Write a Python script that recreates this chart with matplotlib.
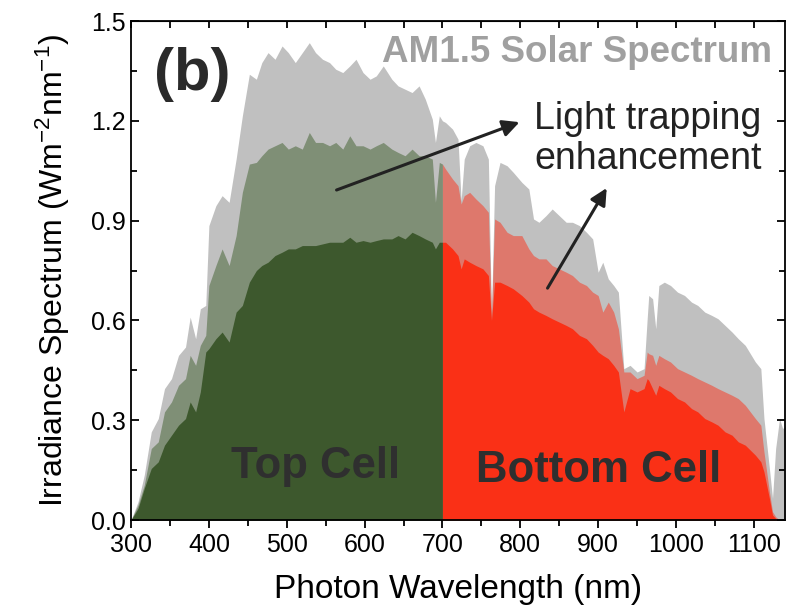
import numpy as np
import matplotlib
matplotlib.use("Agg")
import matplotlib.pyplot as plt
from matplotlib.ticker import MultipleLocator

plt.rcParams["font.family"] = ["Liberation Sans", "DejaVu Sans"]
plt.rcParams["mathtext.fontset"] = "custom"
plt.rcParams["mathtext.rm"] = "Liberation Sans"
plt.rcParams["mathtext.it"] = "Liberation Sans:italic"

# values (nm, W m^-2 nm^-1)
wavelength = [300, 309, 317, 326, 335, 343, 352, 361, 370, 376, 383, 389, 396, 400, 409, 417, 426, 435, 443, 452,
	461, 468, 476, 485, 494, 502, 511, 520, 529, 537, 546, 555, 563, 572, 581, 589, 598, 607, 615, 624,
	635, 643, 652, 661, 670, 678, 687, 691, 696, 700, 704, 713, 720, 724, 728, 735, 743, 752, 759, 763,
	767, 774, 783, 791, 802, 811, 817, 824, 833, 841, 850, 859, 867, 876, 885, 893, 900, 906, 913, 920,
	926, 933, 941, 950, 959, 963, 965, 970, 974, 978, 985, 993, 1002, 1011, 1020, 1028, 1037, 1046, 1054, 1063,
	1072, 1080, 1089, 1102, 1109, 1113, 1120, 1124, 1128, 1133, 1137, 1141]

am15 = [0.0, 0.055, 0.135, 0.265, 0.305, 0.395, 0.425, 0.495, 0.52, 0.61, 0.545, 0.635, 0.645, 0.885, 0.945, 0.975, 0.955, 1.085, 1.215, 1.34,
	1.325, 1.375, 1.405, 1.385, 1.425, 1.405, 1.375, 1.405, 1.435, 1.405, 1.385, 1.375, 1.355, 1.345, 1.365, 1.385, 1.345, 1.325, 1.335, 1.365,
	1.325, 1.305, 1.295, 1.285, 1.305, 1.265, 1.205, 1.135, 1.215, 1.2, 1.195, 1.175, 1.145, 0.96, 1.085, 1.125, 1.135, 1.125, 1.085, 0.62,
	1.005, 1.075, 1.065, 1.045, 1.015, 0.995, 0.905, 0.895, 0.915, 0.935, 0.915, 0.895, 0.895, 0.885, 0.865, 0.845, 0.745, 0.775, 0.725, 0.705,
	0.685, 0.455, 0.465, 0.445, 0.455, 0.605, 0.675, 0.665, 0.575, 0.705, 0.715, 0.705, 0.685, 0.675, 0.655, 0.645, 0.625, 0.615, 0.605, 0.585,
	0.565, 0.545, 0.525, 0.475, 0.455, 0.305, 0.155, 0.065, 0.215, 0.305, 0.275, 0.285]

with_trapping = [0.0, 0.045, 0.105, 0.215, 0.235, 0.325, 0.355, 0.405, 0.425, 0.495, 0.465, 0.525, 0.555, 0.705, 0.765, 0.815, 0.765, 0.855, 0.985, 1.07,
	1.075, 1.095, 1.115, 1.125, 1.135, 1.115, 1.125, 1.115, 1.165, 1.135, 1.135, 1.125, 1.135, 1.115, 1.155, 1.125, 1.125, 1.115, 1.125, 1.135,
	1.115, 1.105, 1.095, 1.115, 1.095, 1.095, 1.085, 0.955, 1.075, 1.07, 1.055, 1.025, 1.005, 0.95, 0.975, 0.985, 0.965, 0.945, 0.925, 0.61,
	0.905, 0.895, 0.865, 0.855, 0.855, 0.815, 0.795, 0.785, 0.785, 0.765, 0.755, 0.745, 0.735, 0.715, 0.705, 0.685, 0.675, 0.625, 0.655, 0.625,
	0.575, 0.445, 0.445, 0.425, 0.435, 0.505, 0.5, 0.495, 0.465, 0.495, 0.485, 0.475, 0.455, 0.445, 0.435, 0.425, 0.415, 0.405, 0.395, 0.385,
	0.375, 0.365, 0.345, 0.305, 0.285, 0.205, 0.085, 0.025, 0.01, 0.0, 0.0, 0.0]

without_trapping = [0.0, 0.035, 0.095, 0.155, 0.175, 0.225, 0.255, 0.285, 0.305, 0.355, 0.325, 0.385, 0.505, 0.515, 0.545, 0.565, 0.535, 0.625, 0.645, 0.715,
	0.75, 0.765, 0.775, 0.795, 0.805, 0.815, 0.815, 0.825, 0.825, 0.825, 0.83, 0.835, 0.835, 0.835, 0.85, 0.835, 0.84, 0.835, 0.84, 0.845,
	0.845, 0.855, 0.845, 0.865, 0.855, 0.845, 0.835, 0.815, 0.835, 0.835, 0.835, 0.815, 0.795, 0.755, 0.785, 0.775, 0.765, 0.755, 0.735, 0.6,
	0.715, 0.715, 0.705, 0.695, 0.675, 0.655, 0.635, 0.625, 0.615, 0.605, 0.595, 0.585, 0.575, 0.555, 0.545, 0.525, 0.505, 0.495, 0.485, 0.465,
	0.445, 0.325, 0.395, 0.385, 0.395, 0.425, 0.42, 0.395, 0.375, 0.405, 0.395, 0.385, 0.365, 0.355, 0.335, 0.325, 0.305, 0.295, 0.285, 0.265,
	0.255, 0.235, 0.225, 0.195, 0.175, 0.145, 0.065, 0.015, 0.005, 0.0, 0.0, 0.0]

split_nm = 700

wl = np.array(wavelength)
top = wl <= split_nm
bottom = wl >= split_nm

fig = plt.figure(figsize=(7.86, 6.11), dpi=100)
ax = fig.add_axes([0.1667, 0.1489, 0.832, 0.8167])

ax.fill_between(wl, 0, am15, color="#c0c0c0", lw=0)
ax.fill_between(wl[top], 0, np.array(with_trapping)[top], color="#7f8f76", lw=0)
ax.fill_between(wl[bottom], 0, np.array(with_trapping)[bottom], color="#de786c", lw=0)
ax.fill_between(wl[top], 0, np.array(without_trapping)[top], color="#3d582d", lw=0)
ax.fill_between(wl[bottom], 0, np.array(without_trapping)[bottom], color="#fa3016", lw=0)

ax.set_xlim(300, 1140)
ax.set_ylim(0, 1.5)
ax.xaxis.set_major_locator(MultipleLocator(100))
ax.xaxis.set_minor_locator(MultipleLocator(50))
ax.yaxis.set_major_locator(MultipleLocator(0.3))
ax.yaxis.set_minor_locator(MultipleLocator(0.15))
ax.yaxis.set_major_formatter(lambda v, pos: f"{v:.1f}")

ax.tick_params(axis="y", which="both", direction="in", left=True, right=True, labelsize=18, width=1.3)
ax.tick_params(axis="x", which="both", direction="out", bottom=True, labelsize=18, width=1.3)
ax.tick_params(which="major", length=6)
ax.tick_params(which="minor", length=4)
# top ticks point inward, bottom ones outward
sec = ax.secondary_xaxis("top")
sec.set_xticks(np.arange(300, 1141, 50))
sec.tick_params(direction="in", length=5, width=1.3, labeltop=False)
for s in ax.spines.values():
	s.set_linewidth(1.3)

ax.set_xlabel("Photon Wavelength (nm)", fontsize=24, labelpad=12)
ax.set_ylabel("Irradiance Spectrum (Wm$^{-2}$nm$^{-1}$)", fontsize=23, labelpad=14)

ax.text(378, 1.34, "(b)", fontsize=43, fontweight="bold", color="#2a2a2a", ha="center", va="center")
ax.text(873, 1.405, "AM1.5 Solar Spectrum", fontsize=26.5, fontweight="bold", color="#a0a0a0", ha="center", va="center")
ax.text(964, 1.145, "Light trapping\nenhancement", fontsize=27, color="#222222", ha="center", va="center", linespacing=1.15)
ax.text(537, 0.16, "Top Cell", fontsize=31.5, fontweight="bold", color="#2f2f2f", ha="center", va="center")
ax.text(900, 0.15, "Bottom Cell", fontsize=31.5, fontweight="bold", color="#2f2f2f", ha="center", va="center")

arrow = dict(arrowstyle="-|>", lw=2.2, color="#222222", mutation_scale=25, shrinkA=0, shrinkB=0)
ax.annotate("", xy=(799, 1.196), xytext=(564, 0.992), arrowprops=arrow)
ax.annotate("", xy=(911, 0.998), xytext=(835, 0.697), arrowprops=arrow)

fig.savefig("out.png", dpi=100)
